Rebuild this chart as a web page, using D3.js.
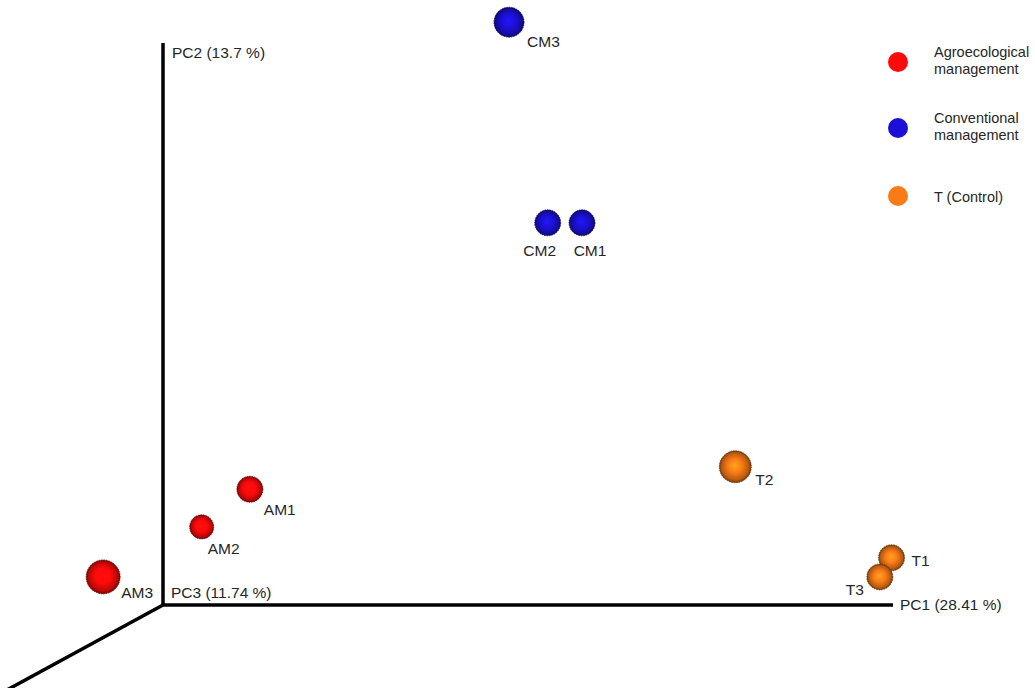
<!DOCTYPE html>
<html>
<head>
<meta charset="utf-8">
<script src="https://cdn.jsdelivr.net/npm/d3@7"></script>
<style>
  body { margin: 0; background: #fff; }
  text { font-family: "Liberation Sans", Arial, sans-serif; fill: #262626; }
</style>
</head>
<body>
<svg id="chart" width="1035" height="688"></svg>
<script>
// sample scores (projected PC1 / PC2, PC3 = depth toward viewer)
var samples = ["AM1", "AM2", "AM3", "CM1", "CM2", "CM3", "T1", "T2", "T3"];
var groups  = ["AM", "AM", "AM", "CM", "CM", "CM", "T", "T", "T"];
var pc1 = [0.119, 0.053, -0.082, 0.574, 0.527, 0.474, 0.998, 0.784, 0.982];
var pc2 = [0.206, 0.139, 0.050, 0.680, 0.680, 1.037, 0.084, 0.246, 0.050];
var pc3 = [0.33, 0.17, 1.0, 0.33, 0.33, 0.67, 0.33, 0.83, 0.33];

var axisLabels = ["PC1 (28.41 %)", "PC2 (13.7 %)", "PC3 (11.74 %)"];

var groupKeys   = ["AM", "CM", "T"];
var groupNames  = [["Agroecological", "management"], ["Conventional", "management"], ["T (Control)"]];
var groupColors = ["#ff0a0a", "#1c10d8", "#f97b16"];

var svg = d3.select("#chart");

var origin = { x: 163, y: 605 };
var x = d3.scaleLinear().domain([0, 1]).range([origin.x, 893]);
var y = d3.scaleLinear().domain([0, 1]).range([origin.y, 43]);
var r = d3.scaleLinear().domain([0, 1]).range([11, 17]);
var color = d3.scaleOrdinal().domain(groupKeys).range(groupColors);

// sphere shading
var defs = svg.append("defs");
groupKeys.forEach(function (k, i) {
    var c = d3.color(groupColors[i]);
    var g = defs.append("radialGradient")
        .attr("id", "sph-" + k)
        .attr("cx", "50%").attr("cy", "50%").attr("r", "50%")
        .attr("fx", "48%").attr("fy", "45%");
    g.append("stop").attr("offset", "0%").attr("stop-color", c.brighter(0.8));
    g.append("stop").attr("offset", "45%").attr("stop-color", c);
    g.append("stop").attr("offset", "85%").attr("stop-color", c.darker(0.9));
    g.append("stop").attr("offset", "100%").attr("stop-color", c.darker(2.2));
});

// axes
var axes = svg.append("g").attr("stroke", "#000").attr("stroke-width", 3.5).attr("fill", "none");
axes.append("line")
    .attr("x1", x(0)).attr("y1", y(0)).attr("x2", x(1)).attr("y2", y(0));
axes.append("line")
    .attr("x1", x(0)).attr("y1", y(0)).attr("x2", x(0)).attr("y2", y(1));
axes.append("line")
    .attr("x1", x(0)).attr("y1", y(0)).attr("x2", x(0) - 180).attr("y2", y(0) + 98);

svg.append("text").attr("x", x(1) + 7).attr("y", y(0) + 5).attr("font-size", 15.5).text(axisLabels[0]);
svg.append("text").attr("x", x(0) + 9).attr("y", y(1) + 15).attr("font-size", 15.5).text(axisLabels[1]);
svg.append("text").attr("x", x(0) + 8).attr("y", y(0) - 7).attr("font-size", 15.5).text(axisLabels[2]);

// label placement around each sphere
var labelPos = {
    AM1: [14, 26, "start"], AM2: [6, 27, "start"], AM3: [18, 21, "start"],
    CM1: [8, 33, "middle"], CM2: [-8, 33, "middle"], CM3: [18, 25, "start"],
    T1: [20, 8, "start"], T2: [20, 18, "start"], T3: [-16, 18, "end"]
};

var data = samples.map(function (s, i) {
    return { name: s, group: groups[i], a: pc1[i], b: pc2[i], c: pc3[i] };
});

var pts = svg.append("g").selectAll("g.pt")
    .data(data)
    .enter().append("g")
    .attr("class", "pt")
    .attr("transform", function (d) { return "translate(" + [x(d.a), y(d.b)] + ")"; });

pts.append("circle")
    .attr("r", function (d) { return r(d.c); })
    .attr("fill", function (d) { return "url(#sph-" + d.group + ")"; })
    .attr("stroke", function (d) { return d3.color(color(d.group)).darker(2.5); })
    .attr("stroke-width", 0.8)
    .attr("stroke-dasharray", "1.5,1");

pts.append("text")
    .attr("x", function (d) { return labelPos[d.name][0]; })
    .attr("y", function (d) { return labelPos[d.name][1]; })
    .attr("text-anchor", function (d) { return labelPos[d.name][2]; })
    .attr("font-size", 15.5)
    .text(function (d) { return d.name; });

// legend
var legend = svg.append("g").attr("transform", "translate(898,62)");
var item = legend.selectAll("g")
    .data(groupKeys)
    .enter().append("g")
    .attr("transform", function (d, i) { return "translate(0," + [0, 66, 134][i] + ")"; });

item.append("circle").attr("r", 10).attr("fill", function (d) { return color(d); });
item.append("text")
    .attr("x", 36)
    .attr("y", function (d, i) { return groupNames[i].length > 1 ? -5 : 6; })
    .attr("font-size", 14.5)
    .selectAll("tspan")
    .data(function (d, i) { return groupNames[i]; })
    .enter().append("tspan")
    .attr("x", 36)
    .attr("dy", function (d, j) { return j ? 17 : 0; })
    .text(function (d) { return d; });
</script>
</body>
</html>
